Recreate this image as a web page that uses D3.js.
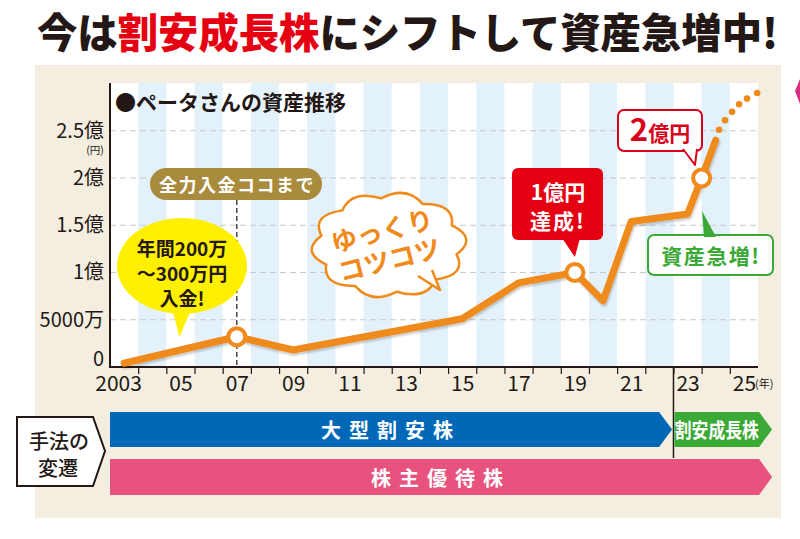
<!DOCTYPE html>
<html>
<head>
<meta charset="utf-8">
<script src="https://cdn.jsdelivr.net/npm/d3@7"></script>
<style>
body { margin: 0; background: #fff; }
svg { display: block; }
text { font-family: "Noto Sans CJK JP", sans-serif; }
.num { font-family: "Liberation Sans Narrow", "Noto Sans CJK JP", sans-serif; }
</style>
</head>
<body>
<div id="chart"></div>
<script>
const W = 800, H = 539;
const PLOT_LEFT = 110, PLOT_RIGHT = 758, PLOT_TOP = 83, PLOT_BOTTOM = 367;

// assets in 億円
const years = [2003, 2007, 2009, 2015, 2017, 2019, 2020, 2021, 2023, 2023.5, 2024];
const assets = [0.04, 0.32, 0.18, 0.51, 0.89, 1.0, 0.70, 1.54, 1.62, 2.0, 2.4];
// projection (dotted)
const projYears = [2024.12, 2024.33, 2024.58, 2024.83, 2025.11, 2025.47];
const projAssets = [2.51, 2.61, 2.70, 2.78, 2.84, 2.90];
const milestoneYears = [2007, 2019, 2023.5];
const milestoneAssets = [0.32, 1.0, 2.0];

const yTicks = [0, 0.5, 1, 1.5, 2, 2.5];
const yTickLabels = ['0', '5000万', '1億', '1.5億', '2億', '2.5億'];
const xLabelYears = [2003, 2005, 2007, 2009, 2011, 2013, 2015, 2017, 2019, 2021, 2023, 2025];
const xTickLabels = ['2003', '05', '07', '09', '11', '13', '15', '17', '19', '21', '23', '25'];

// investment methods (手法の変遷)
const methodNames = ['大型割安株', '割安成長株', '株主優待株'];
const methodStart = [2002.5, 2022.5, 2002.5];
const methodEnd = [2022.45, 2026, 2026];
const methodRow = [0, 0, 1];

const ORANGE = '#ef8a1b';
const methodColors = ['#0068b7', '#3aa935', '#e8527e'];

const svg = d3.select('#chart').append('svg')
  .attr('width', W)
  .attr('height', H);

const defs = svg.append('defs');
defs.append('filter').attr('id', 'shadow')
  .attr('x', '-10%').attr('y', '-10%').attr('width', '120%').attr('height', '130%')
  .append('feDropShadow')
  .attr('dx', 1).attr('dy', 2).attr('stdDeviation', 1.2)
  .attr('flood-color', '#000').attr('flood-opacity', 0.22);

// title
const title = svg.append('text')
  .attr('x', 37).attr('y', 48)
  .attr('font-size', 41)
  .attr('font-weight', 900)
  .attr('fill', '#231815')
  .attr('textLength', 741)
  .attr('lengthAdjust', 'spacingAndGlyphs');
title.append('tspan').text('今は');
title.append('tspan').attr('fill', '#e50012').text('割安成長株');
title.append('tspan').text('にシフトして資産急増中!');

// side decoration cut off at the right edge
svg.append('path')
  .attr('d', 'M800,79 L795,91 L800,104 Z')
  .attr('fill', '#d6307e');

// beige panel
svg.append('rect')
  .attr('x', 35).attr('y', 65)
  .attr('width', 746).attr('height', 453)
  .attr('fill', '#f3eee0');

const x = d3.scaleLinear().domain([2002.5, 2025.5]).range([PLOT_LEFT, PLOT_RIGHT]);
const y = d3.scaleLinear().domain([0, 3]).range([PLOT_BOTTOM, PLOT_BOTTOM - 3 * 94.5]);

// plot background with yearly stripes
svg.append('rect')
  .attr('x', PLOT_LEFT).attr('y', PLOT_TOP)
  .attr('width', PLOT_RIGHT - PLOT_LEFT).attr('height', PLOT_BOTTOM - PLOT_TOP)
  .attr('fill', '#fff');

svg.append('g').selectAll('rect')
  .data(d3.range(2004, 2025, 2))
  .enter()
  .append('rect')
  .attr('x', d => x(d - 0.5))
  .attr('y', PLOT_TOP)
  .attr('width', d => x(d + 0.5) - x(d - 0.5))
  .attr('height', PLOT_BOTTOM - PLOT_TOP)
  .attr('fill', '#e3f1fb');

// grid lines
svg.append('g').selectAll('line')
  .data(yTicks.slice(1))
  .enter()
  .append('line')
  .attr('x1', PLOT_LEFT).attr('x2', PLOT_RIGHT)
  .attr('y1', d => y(d)).attr('y2', d => y(d))
  .attr('stroke', '#c9c9c9')
  .attr('stroke-width', 1.2)
  .attr('stroke-dasharray', '6,4');

// 2007 dashed marker line
svg.append('line')
  .attr('x1', x(2007)).attr('x2', x(2007))
  .attr('y1', 200).attr('y2', PLOT_BOTTOM)
  .attr('stroke', '#4a4a4a')
  .attr('stroke-width', 1.5)
  .attr('stroke-dasharray', '5,3');

// divider at 2023
svg.append('line')
  .attr('x1', x(2022.5)).attr('x2', x(2022.5))
  .attr('y1', PLOT_BOTTOM).attr('y2', 458)
  .attr('stroke', '#231815')
  .attr('stroke-width', 1.5);

// axes
const xTickAxis = d3.axisBottom(x)
  .tickValues(d3.range(2003.5, 2025, 1))
  .tickSize(7)
  .tickFormat('');
svg.append('g')
  .attr('transform', `translate(0, ${PLOT_BOTTOM})`)
  .call(xTickAxis)
  .call(g => g.select('.domain').remove())
  .call(g => g.selectAll('line').attr('stroke', '#231815').attr('stroke-width', 1.2));

const xLabelAxis = d3.axisBottom(x)
  .tickValues(xLabelYears)
  .tickSize(0)
  .tickPadding(9)
  .tickFormat((d, i) => xTickLabels[i]);
svg.append('g')
  .attr('transform', `translate(0, ${PLOT_BOTTOM})`)
  .call(xLabelAxis)
  .call(g => g.select('.domain').remove())
  .call(g => g.selectAll('text')
    .attr('class', 'num')
    .attr('font-size', 21)
    .attr('fill', '#231815')
    .attr('dx', d => d === 2003 ? -6 : 0));

svg.append('text')
  .attr('x', 755).attr('y', 388)
  .attr('font-size', 11)
  .attr('fill', '#231815')
  .text('(年)');

const yAxis = d3.axisLeft(y)
  .tickValues(yTicks)
  .tickSize(0)
  .tickPadding(6)
  .tickFormat((d, i) => yTickLabels[i]);
svg.append('g')
  .attr('transform', `translate(${PLOT_LEFT}, 0)`)
  .call(yAxis)
  .call(g => g.select('.domain').remove())
  .call(g => g.selectAll('text')
    .attr('class', 'num')
    .attr('font-size', 20)
    .attr('fill', '#231815')
    .attr('dy', d => d === 0 ? '-0.08em' : '0.32em'));

svg.append('text')
  .attr('x', 95).attr('y', 154)
  .attr('text-anchor', 'middle')
  .attr('font-size', 10.5)
  .attr('fill', '#231815')
  .text('(円)');

svg.append('line')
  .attr('x1', PLOT_LEFT).attr('x2', PLOT_LEFT)
  .attr('y1', PLOT_TOP).attr('y2', PLOT_BOTTOM + 1)
  .attr('stroke', '#231815').attr('stroke-width', 2);
svg.append('line')
  .attr('x1', PLOT_LEFT - 1).attr('x2', PLOT_RIGHT)
  .attr('y1', PLOT_BOTTOM).attr('y2', PLOT_BOTTOM)
  .attr('stroke', '#231815').attr('stroke-width', 2);

svg.append('text')
  .attr('x', 115).attr('y', 110)
  .attr('font-size', 21)
  .attr('font-weight', 700)
  .attr('fill', '#231815')
  .text('●ペータさんの資産推移');

// asset line
const line = d3.line()
  .x(d => x(d[0]))
  .y(d => y(d[1]));

svg.append('path')
  .datum(years.map((d, i) => [d, assets[i]]))
  .attr('d', line)
  .attr('fill', 'none')
  .attr('stroke', ORANGE)
  .attr('stroke-width', 7)
  .attr('stroke-linecap', 'round')
  .attr('stroke-linejoin', 'round')
  .attr('filter', 'url(#shadow)');

svg.append('g').selectAll('circle')
  .data(projYears)
  .enter()
  .append('circle')
  .attr('cx', d => x(d))
  .attr('cy', (d, i) => y(projAssets[i]))
  .attr('r', 3.3)
  .attr('fill', ORANGE);

svg.append('g').selectAll('circle')
  .data(milestoneYears)
  .enter()
  .append('circle')
  .attr('cx', d => x(d))
  .attr('cy', (d, i) => y(milestoneAssets[i]))
  .attr('r', 8.5)
  .attr('fill', '#fff')
  .attr('stroke', ORANGE)
  .attr('stroke-width', 4);

// --- callouts ---
function tail(pts, fill, stroke, sw) {
  svg.append('path')
    .attr('d', `M${pts[0]}L${pts[1]}L${pts[2]}`)
    .attr('fill', fill)
    .attr('stroke', stroke || 'none')
    .attr('stroke-width', sw || 0)
    .attr('stroke-linejoin', 'round');
}

function centerText(tx, ty, str, size, color, weight, spacing) {
  return svg.append('text')
    .attr('x', tx).attr('y', ty)
    .attr('text-anchor', 'middle')
    .attr('dominant-baseline', 'central')
    .attr('font-size', size)
    .attr('font-weight', weight || 700)
    .attr('letter-spacing', spacing || 0)
    .attr('fill', color)
    .text(str);
}

// 全力入金ココまで
svg.append('rect')
  .attr('x', 150).attr('y', 168)
  .attr('width', 172).attr('height', 32)
  .attr('rx', 16)
  .attr('fill', '#a98b3e');
centerText(237, 184, '全力入金ココまで', 18, '#fff', 700, 1.5);

// yellow bubble
tail([[170, 300], [x(2005) - 1, 337], [195, 300]], '#fff000');
svg.append('ellipse')
  .attr('cx', 182).attr('cy', 266)
  .attr('rx', 65).attr('ry', 48)
  .attr('fill', '#fff000');
centerText(182, 247, '年間200万', 19, '#231815', 700);
centerText(182, 272, '～300万円', 19, '#231815', 700);
centerText(182, 297, '入金!', 19, '#231815', 700);

// cloud bubble
(function () {
  const cx = 389, cy = 245, rx = 69, ry = 47, n = 10;
  const pt = (a, s) => [cx + rx * s * Math.cos(a), cy + ry * s * Math.sin(a)];
  let d = '';
  for (let i = 0; i < n; i++) {
    const a0 = (i / n) * 2 * Math.PI + 0.2;
    const a1 = ((i + 1) / n) * 2 * Math.PI + 0.2;
    const p0 = pt(a0, 1), c = pt((a0 + a1) / 2, 1.3), p1 = pt(a1, 1);
    d += (i === 0 ? `M${p0}` : '') + `Q${c} ${p1}`;
  }
  svg.append('path')
    .attr('d', d + 'Z')
    .attr('fill', '#fff')
    .attr('stroke', ORANGE)
    .attr('stroke-width', 2.5);
  tail([[418, 276], [440, 290], [432, 270]], '#fff', ORANGE, 2.5);
  const g = svg.append('g')
    .attr('transform', 'rotate(-14, 386, 246)')
    .attr('font-size', 26)
    .attr('font-weight', 700)
    .attr('fill', ORANGE)
    .attr('text-anchor', 'middle');
  g.append('text').attr('x', 386).attr('y', 240).text('ゆっくり');
  g.append('text').attr('x', 386).attr('y', 270).text('コツコツ');
})();

// 1億円達成!
svg.append('rect')
  .attr('x', 512).attr('y', 168)
  .attr('width', 91).attr('height', 72)
  .attr('rx', 6)
  .attr('fill', '#e50012');
tail([[562, 238], [x(2019), 257], [580, 238]], '#e50012');
centerText(558, 191, '1億円', 21, '#fff', 700);
centerText(558, 220, '達成!', 21, '#fff', 700, 2);

// 2億円
svg.append('rect')
  .attr('x', 618).attr('y', 110)
  .attr('width', 84).attr('height', 41)
  .attr('rx', 6)
  .attr('fill', '#fff')
  .attr('stroke', '#d7001a')
  .attr('stroke-width', 2);
tail([[683, 149], [695, 165], [697, 149]], '#fff', '#d7001a', 2);
const t2 = svg.append('text')
  .attr('x', 660).attr('y', 141)
  .attr('text-anchor', 'middle')
  .attr('font-weight', 700)
  .attr('fill', '#d7001a');
t2.append('tspan').attr('class', 'num').attr('font-size', 31).text('2');
t2.append('tspan').attr('font-size', 21).text('億円');

// 資産急増!
svg.append('rect')
  .attr('x', 648).attr('y', 235)
  .attr('width', 125).attr('height', 40)
  .attr('rx', 6)
  .attr('fill', '#fff')
  .attr('stroke', '#3aa935')
  .attr('stroke-width', 2);
tail([[704, 237], [702, 211], [716, 237]], '#3aa935');
centerText(711, 255, '資産急増!', 21, '#3aa935', 700, 1.5);

// --- 手法の変遷 ---
svg.append('path')
  .attr('d', 'M17,417 L93,417 L105,451 L93,486 L17,486 Z')
  .attr('fill', '#fff')
  .attr('stroke', '#231815')
  .attr('stroke-width', 2);
centerText(59, 440, '手法の', 20, '#231815', 500);
centerText(58, 467, '変遷', 20, '#231815', 500);

const ROW_TOP = [412, 459], ROW_H = [35, 36], TIP = 13;
const methodG = svg.append('g');
methodNames.forEach((name, i) => {
  const x0 = x(methodStart[i]) + (i === 1 ? 1 : 0);
  const x1 = x(methodEnd[i]);
  const t = ROW_TOP[methodRow[i]], h = ROW_H[methodRow[i]];
  methodG.append('path')
    .attr('d', `M${x0},${t} L${x1 - TIP},${t} L${x1},${t + h / 2} L${x1 - TIP},${t + h} L${x0},${t + h} Z`)
    .attr('fill', methodColors[i]);
  const lbl = methodG.append('text')
    .attr('x', (x0 + x1 - (i === 1 ? TIP : 0)) / 2)
    .attr('y', t + h / 2)
    .attr('text-anchor', 'middle')
    .attr('dominant-baseline', 'central')
    .attr('font-size', 20)
    .attr('font-weight', 700)
    .attr('fill', '#fff')
    .text(name);
  if (i === 1) {
    lbl.attr('textLength', 84).attr('lengthAdjust', 'spacingAndGlyphs');
  } else {
    lbl.attr('letter-spacing', 8);
  }
});
</script>
</body>
</html>
